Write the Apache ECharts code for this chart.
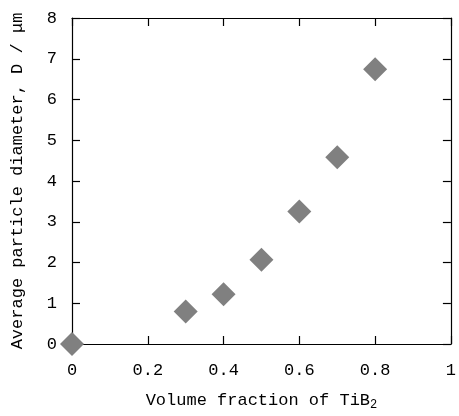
<!DOCTYPE html>
<html><head><meta charset="utf-8">
<script src="https://cdn.jsdelivr.net/npm/echarts@6/dist/echarts.min.js"></script>
<style>html,body{margin:0;padding:0;background:#fff}#c{width:459px;height:416px}</style>
</head><body><div id="c"></div>
<script>
var volumeFraction = [0, 0.3, 0.4, 0.5, 0.6, 0.7, 0.8];
var diameter = [0.0, 0.80, 1.22, 2.07, 3.25, 4.58, 6.74];
var xTicks = [0, 0.2, 0.4, 0.6, 0.8, 1];
var yTicks = [0, 1, 2, 3, 4, 5, 6, 7, 8];

var FONT = '"Liberation Mono", "DejaVu Sans Mono", monospace';
var points = volumeFraction.map(function (v, i) { return [v, diameter[i]]; });
function fmtX(v) { return String(Math.round(v * 10) / 10); }

var lineS = { show: true, onZero: false, lineStyle: { color: '#000', width: 1.2 } };
var tickS = { show: true, inside: true, length: 8, lineStyle: { color: '#000', width: 1.2 } };

var chart = echarts.init(document.getElementById('c'));
chart.setOption({
  animation: false,
  grid: { left: 72, right: 1.5, top: 18, bottom: 70, containLabel: false },
  xAxis: [{
    type: 'value', min: xTicks[0], max: xTicks[xTicks.length - 1], interval: 0.2, position: 'bottom',
    name: 'Volume fraction of TiB{sub|2}', nameLocation: 'middle', nameGap: 45,
    nameTextStyle: { color: '#000', fontFamily: FONT, fontSize: 17,
      rich: { sub: { fontFamily: FONT, fontSize: 12, color: '#000', padding: [10, 0, 0, 0] } } },
    axisLine: lineS, axisTick: tickS,
    axisLabel: { color: '#000', fontFamily: FONT, fontSize: 17, margin: 18, formatter: fmtX },
    splitLine: { show: false }
  }, {
    type: 'value', min: xTicks[0], max: xTicks[xTicks.length - 1], interval: 0.2, position: 'top',
    axisLine: lineS, axisTick: tickS,
    axisLabel: { show: false }, splitLine: { show: false }
  }],
  yAxis: [{
    type: 'value', min: yTicks[0], max: yTicks[yTicks.length - 1], interval: 1, position: 'left',
    name: 'Average particle diameter, D / μm', nameLocation: 'middle', nameGap: 46, nameRotate: 90,
    nameTextStyle: { color: '#000', fontFamily: FONT, fontSize: 17 },
    axisLine: lineS, axisTick: tickS,
    axisLabel: { color: '#000', fontFamily: FONT, fontSize: 17, margin: 15 },
    splitLine: { show: false }
  }, {
    type: 'value', min: yTicks[0], max: yTicks[yTicks.length - 1], interval: 1, position: 'right',
    axisLine: lineS, axisTick: tickS,
    axisLabel: { show: false }, splitLine: { show: false }
  }],
  series: [{
    type: 'scatter', xAxisIndex: 0, yAxisIndex: 0,
    symbol: 'diamond', symbolSize: [24, 24],
    itemStyle: { color: '#808080', opacity: 1 },
    data: points, z: 10, clip: false
  }]
});
</script></body></html>
